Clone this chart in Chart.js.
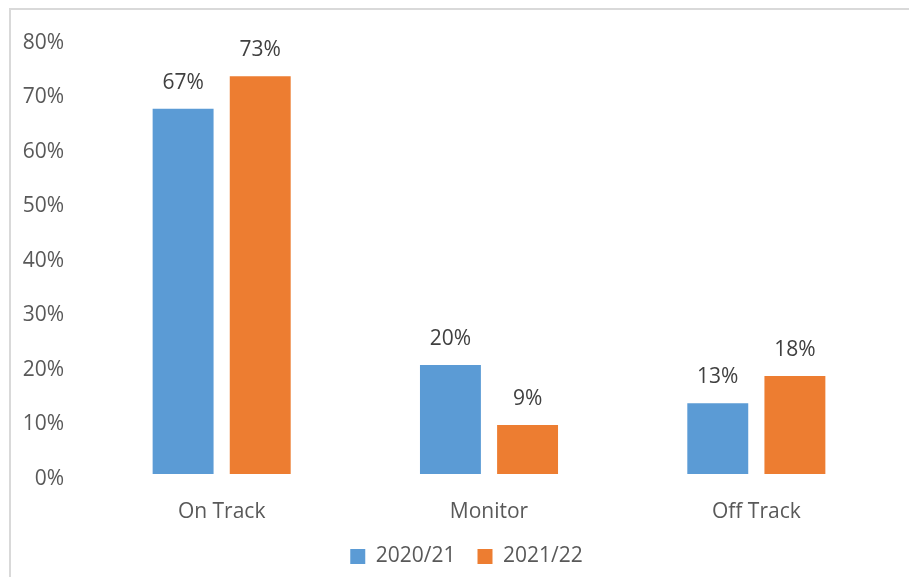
<!DOCTYPE html>
<html>
<head>
<meta charset="utf-8">
<script src="https://cdn.jsdelivr.net/npm/chart.js@4"></script>
<style>
    html, body { margin: 0; padding: 0; background: #fff; }
    #wrap { width: 909px; height: 577px; position: relative; }
</style>
</head>
<body>
<div id="wrap"><canvas id="trackChart"></canvas></div>
<script>
const categories = ['On Track', 'Monitor', 'Off Track'];
const seriesNames = ['2020/21', '2021/22'];
const values2020 = [67, 20, 13];
const values2021 = [73, 9, 18];
const yTicks = [0, 10, 20, 30, 40, 50, 60, 70, 80];

const FONT = "'Open Sans', sans-serif";

// light frame around the chart (only top and left edges are visible)
const framePlugin = {
    id: 'frame',
    beforeDraw(chart) {
        const ctx = chart.ctx;
        ctx.save();
        ctx.strokeStyle = '#d9d9d9';
        ctx.lineWidth = 2;
        ctx.beginPath();
        ctx.moveTo(10, chart.height + 5);
        ctx.lineTo(10, 9);
        ctx.lineTo(chart.width + 5, 9);
        ctx.stroke();
        ctx.restore();
    }
};

// the legend in the original sits a bit right of the canvas centre
const legendShift = {
    id: 'legendShift',
    afterLayout(chart) {
        if (chart.legend) {
            chart.legend.left += 12;
            chart.legend.right += 12;
        }
    }
};

// percentage labels above each bar
const valueLabels = {
    id: 'valueLabels',
    afterDatasetsDraw(chart) {
        const ctx = chart.ctx;
        ctx.save();
        ctx.font = '21px ' + FONT;
        ctx.fillStyle = '#404040';
        ctx.textAlign = 'center';
        ctx.textBaseline = 'alphabetic';
        chart.data.datasets.forEach((ds, i) => {
            chart.getDatasetMeta(i).data.forEach((bar, j) => {
                ctx.fillText(ds.data[j] + '%', bar.x, bar.y - 20);
            });
        });
        ctx.restore();
    }
};

new Chart(document.getElementById('trackChart'), {
    type: 'bar',
    data: {
        labels: categories,
        datasets: [{
            label: seriesNames[0],
            data: values2020,
            backgroundColor: '#5B9BD5'
        }, {
            label: seriesNames[1],
            data: values2021,
            backgroundColor: '#ED7D31'
        }]
    },
    options: {
        responsive: true,
        maintainAspectRatio: false,
        animation: false,
        layout: { padding: { left: 19, right: 19, top: 38, bottom: 0 } },
        datasets: {
            bar: { categoryPercentage: 0.577, barPercentage: 0.79 }
        },
        scales: {
            x: {
                grid: { display: false, drawTicks: false },
                border: { display: false },
                afterFit(axis) { axis.height = 50; },
                ticks: { color: '#595959', font: { family: FONT, size: 21 }, padding: 25 }
            },
            y: {
                min: 0,
                max: 80,
                grid: { display: false, drawTicks: false },
                border: { display: false },
                afterBuildTicks(axis) {
                    axis.ticks = yTicks.map(v => ({ value: v }));
                },
                afterFit(axis) { axis.width = 69; },
                ticks: {
                    color: '#595959',
                    font: { family: FONT, size: 21 },
                    padding: 24,
                    labelOffset: 5,
                    callback: v => v + '%'
                }
            }
        },
        plugins: {
            legend: {
                position: 'bottom',
                labels: {
                    color: '#595959',
                    font: { family: FONT, size: 21 },
                    boxWidth: 15,
                    boxHeight: 15,
                    padding: 22
                }
            },
            tooltip: { enabled: false }
        }
    },
    plugins: [framePlugin, legendShift, valueLabels]
});
</script>
</body>
</html>
